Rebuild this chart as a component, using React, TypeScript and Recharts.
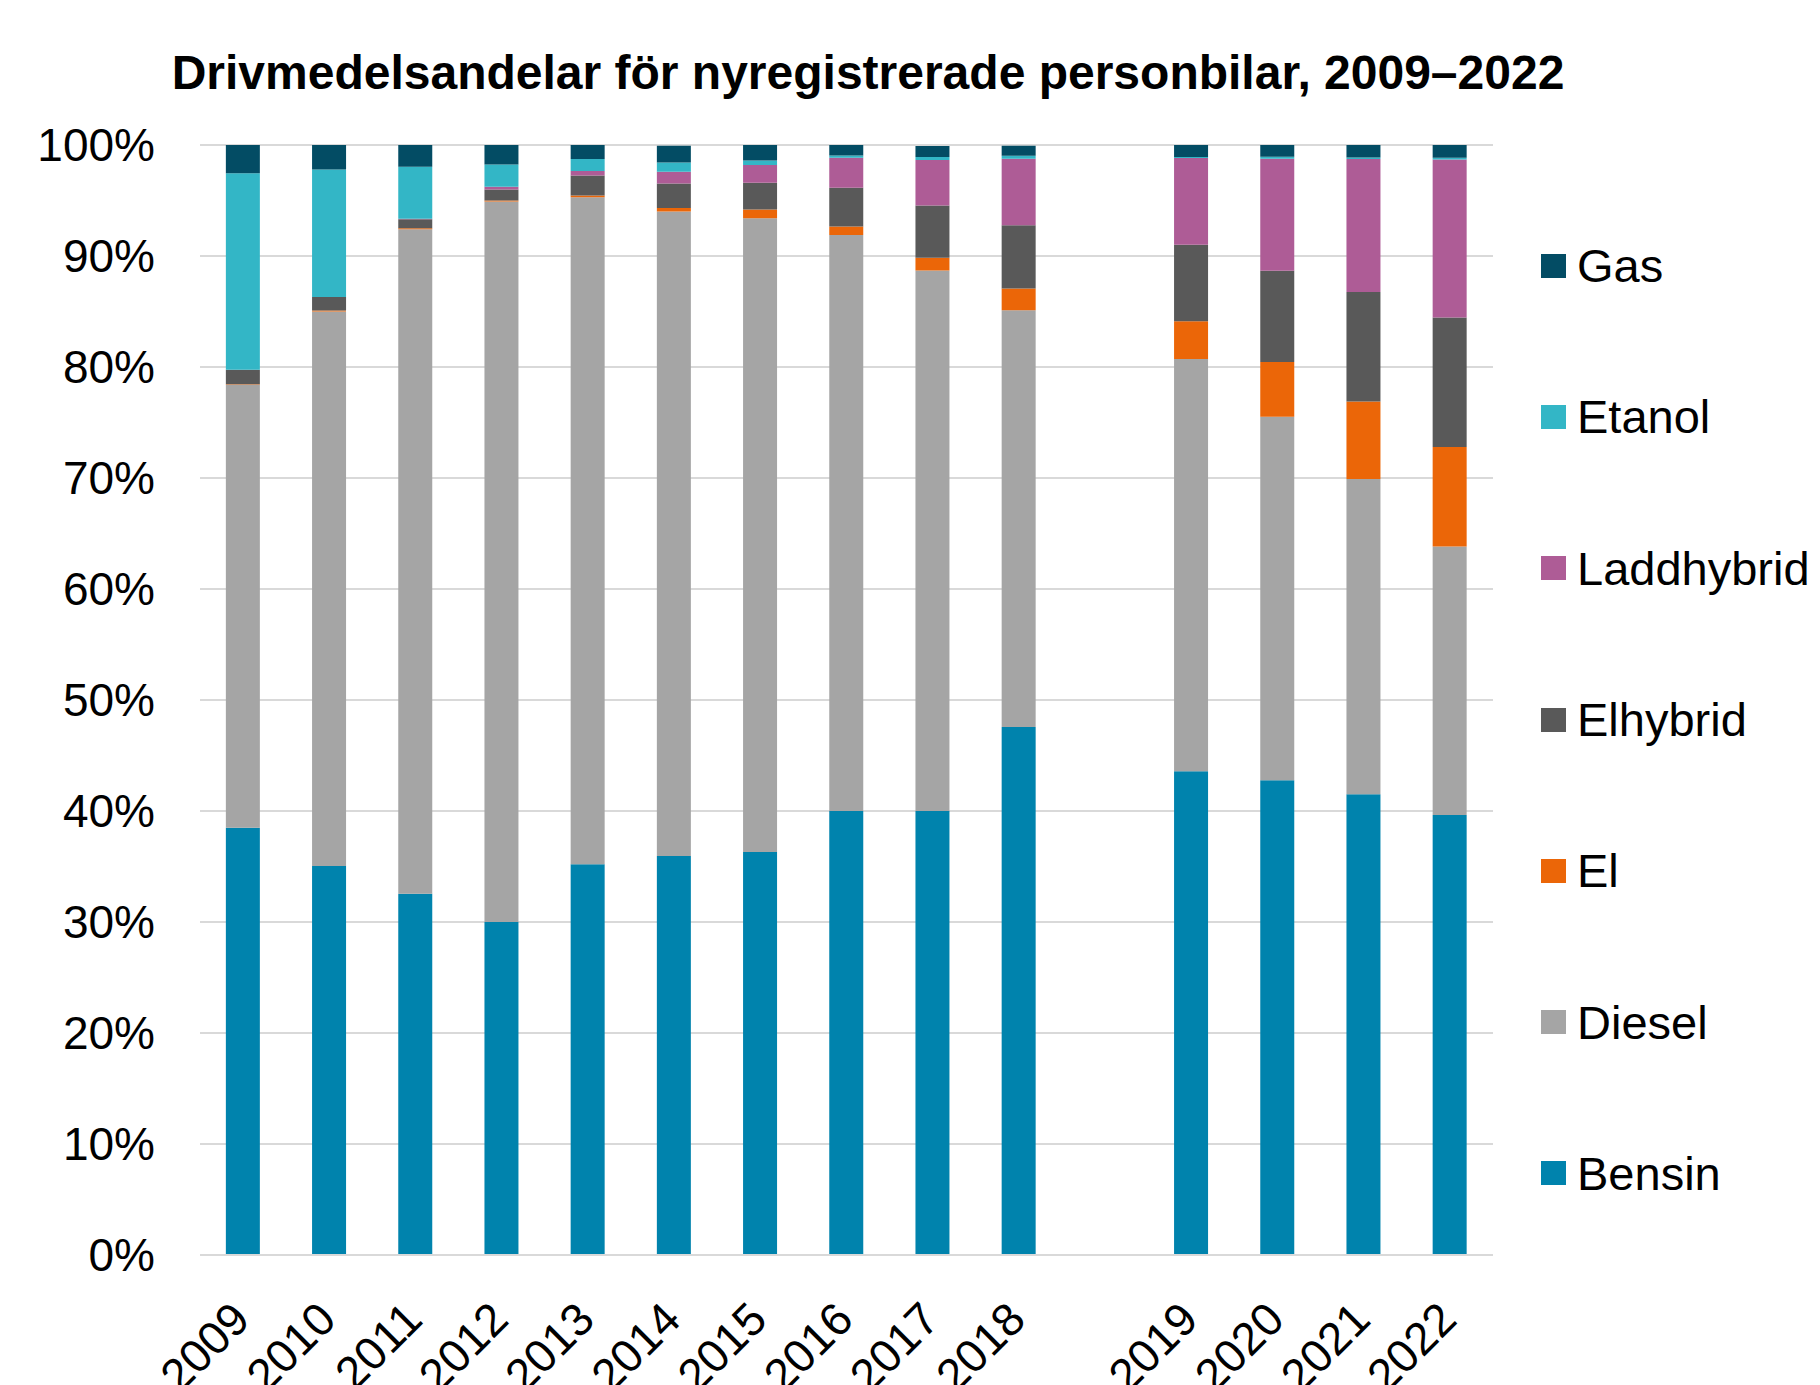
import { BarChart, Bar, XAxis, YAxis, CartesianGrid, Legend } from "recharts";

document.body.style.margin = "0";

// empty slot between 2018 and 2019 is intentional (gap in the original)
const years = ["2009", "2010", "2011", "2012", "2013", "2014", "2015", "2016", "2017", "2018", "", "2019", "2020", "2021", "2022"];

const bensin = [38.5, 35.05, 32.55, 30.0, 35.2, 35.95, 36.3, 40.0, 40.0, 47.57, null, 43.57, 42.76, 41.5, 39.64];
const diesel = [39.9, 49.95, 59.85, 64.9, 60.1, 58.05, 57.1, 51.9, 48.7, 37.55, null, 37.15, 32.75, 28.4, 24.2];
const el = [0.05, 0.1, 0.1, 0.1, 0.15, 0.33, 0.8, 0.75, 1.15, 1.95, null, 3.4, 4.95, 7.0, 8.96];
const elhybrid = [1.3, 1.2, 0.8, 1.0, 1.8, 2.2, 2.4, 3.5, 4.7, 5.7, null, 6.9, 8.2, 9.85, 11.65];
const laddhybrid = [0, 0, 0.05, 0.25, 0.4, 1.05, 1.6, 2.7, 4.1, 6.0, null, 7.8, 10.1, 12.0, 14.25];
const etanol = [17.7, 11.5, 4.7, 2.0, 1.1, 0.85, 0.4, 0.2, 0.27, 0.27, null, 0.1, 0.18, 0.12, 0.15];
const gas = [2.6, 2.2, 2.0, 1.8, 1.3, 1.5, 1.4, 1.0, 1.0, 0.9, null, 1.1, 1.1, 1.14, 1.14];

const yTicks = [0, 10, 20, 30, 40, 50, 60, 70, 80, 90, 100];

const series = [
  { key: "Bensin", values: bensin, color: "#0083AD" },
  { key: "Diesel", values: diesel, color: "#A5A5A5" },
  { key: "El", values: el, color: "#EB6608" },
  { key: "Elhybrid", values: elhybrid, color: "#595959" },
  { key: "Laddhybrid", values: laddhybrid, color: "#AE5C96" },
  { key: "Etanol", values: etanol, color: "#33B6C6" },
  { key: "Gas", values: gas, color: "#034C64" },
];

const data = years.map((year, i) => {
  const row: Record<string, any> = { year };
  series.forEach((s) => {
    if (s.values[i] != null) row[s.key] = s.values[i];
  });
  return row;
});

const FONT = '"Liberation Sans", Arial, sans-serif';

function YearTick({ x, y, payload }: any) {
  return (
    <text
      x={x + 9}
      y={y + 67}
      transform={`rotate(-45, ${x + 9}, ${y + 67})`}
      textAnchor="end"
      fontSize={46}
      fontFamily={FONT}
      fill="#000"
    >
      {payload.value}
    </text>
  );
}

function SideLegend() {
  const items = [...series].reverse();
  return (
    <div style={{ fontFamily: FONT }}>
      {items.map((s) => (
        <div key={s.key} style={{ display: "flex", alignItems: "center", height: 151.3 }}>
          <span style={{ width: 25, height: 24, backgroundColor: s.color, marginRight: 11, flexShrink: 0 }} />
          <span style={{ fontSize: 47, color: "#000", whiteSpace: "nowrap" }}>{s.key}</span>
        </div>
      ))}
    </div>
  );
}

export default function App() {
  return (
    <div style={{ position: "relative", width: 1820, height: 1385, background: "#fff", fontFamily: FONT }}>
      <div
        style={{
          position: "absolute",
          left: 0,
          width: 1736,
          top: 49,
          textAlign: "center",
          fontSize: 48,
          fontWeight: "bold",
          lineHeight: "48px",
          whiteSpace: "nowrap",
        }}
      >
        Drivmedelsandelar för nyregistrerade personbilar, 2009–2022
      </div>
      <BarChart
        width={1820}
        height={1385}
        data={data}
        margin={{ top: 145, right: 327, bottom: 0, left: 0 }}
        barCategoryGap="30%"
      >
        <CartesianGrid vertical={false} stroke="#D9D9D9" strokeWidth={2} />
        <XAxis
          dataKey="year"
          height={130}
          interval={0}
          tickSize={0}
          tickMargin={0}
          tickLine={false}
          axisLine={{ stroke: "#D9D9D9", strokeWidth: 2 }}
          tick={<YearTick />}
        />
        <YAxis
          width={200}
          domain={[0, 100]}
          ticks={yTicks}
          allowDataOverflow
          tickFormatter={(v: number) => `${v}%`}
          axisLine={false}
          tickLine={false}
          tickSize={0}
          tickMargin={45}
          tick={{ fill: "#000", fontSize: 46, fontFamily: FONT }}
        />
        <Legend
          layout="vertical"
          align="center"
          verticalAlign="middle"
          wrapperStyle={{ left: 1541, top: 190, width: 279 }}
          content={() => <SideLegend />}
        />
        {series.map((s) => (
          <Bar key={s.key} dataKey={s.key} stackId="a" fill={s.color} isAnimationActive={false} />
        ))}
      </BarChart>
    </div>
  );
}
